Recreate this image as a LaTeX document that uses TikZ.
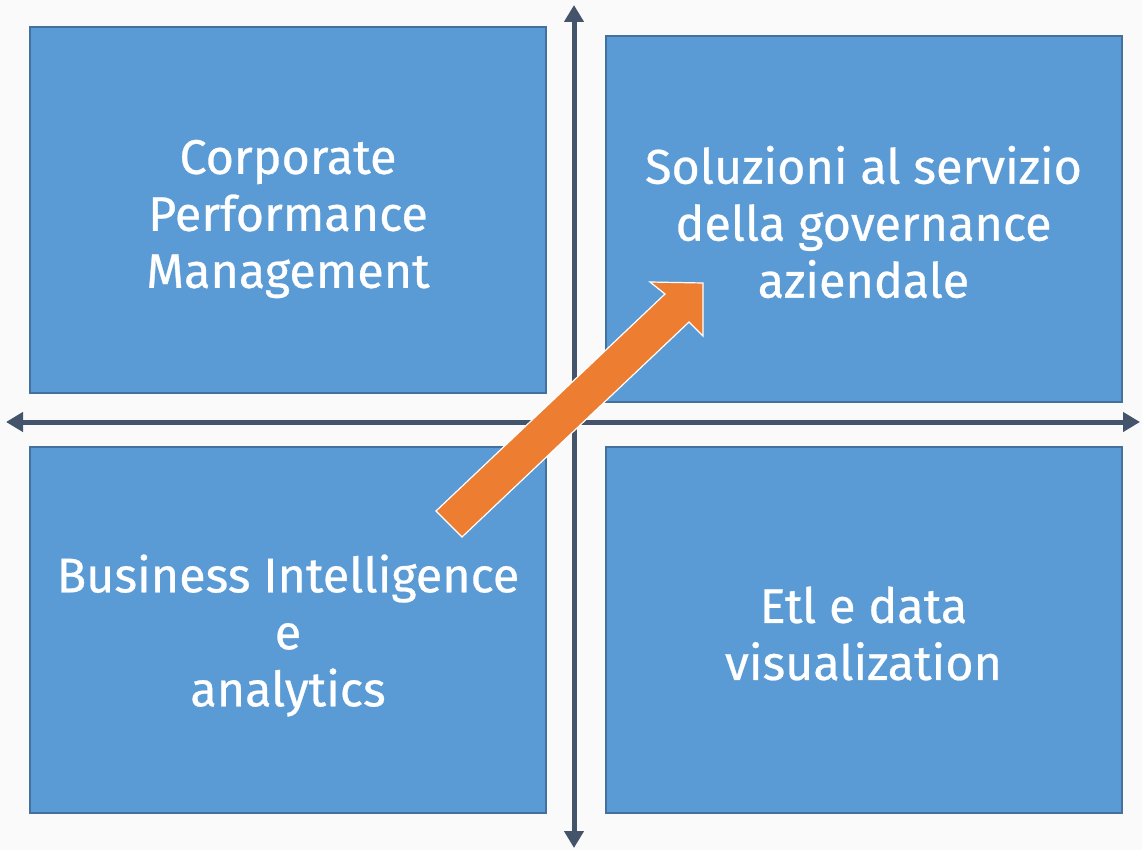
\documentclass[tikz,border=0pt]{standalone}
\usepackage{fontspec}
\setmainfont{Fira Sans}[UprightFeatures={FakeBold=0.6}]
\usetikzlibrary{arrows.meta}
\definecolor{bg}{HTML}{FAFAFA}
\definecolor{boxfill}{HTML}{5B9BD5}
\definecolor{boxline}{HTML}{41719C}
\definecolor{axis}{HTML}{44546A}
\definecolor{orng}{HTML}{ED7D31}
\tikzset{
  quad/.style={draw=boxline, line width=2pt, fill=boxfill, minimum width=516pt, minimum height=366pt,
    inner sep=0pt},
  lbl/.style={text=white, align=center, inner sep=0pt, font=\fontsize{48.5}{57}\selectfont},
  axisline/.style={draw=axis, line width=5pt, {Triangle[length=17pt,width=19pt]}-{Triangle[length=17pt,width=19pt]}},
}
\begin{document}
\begin{tikzpicture}[x=1pt,y=-1pt]
\fill[bg] (0,0) rectangle (1142,850);
\useasboundingbox (0,0) rectangle (1142,850);
\node[quad] (tl) at (288,210) {};
\node[quad] (tr) at (863.5,219) {};
\node[quad] (bl) at (288,629.5) {};
\node[quad] (br) at (863.5,629.5) {};
\node[lbl] (tlt) at ([yshift=-9pt]tl.center) {Corporate\\Performance\\Management};
\node[lbl] (trt) at ([yshift=-3pt]tr.center) {Soluzioni al servizio\\della governance\\aziendale};
\node[lbl] (blt) at ([yshift=-6pt]bl.center) {Business Intelligence\\e\\analytics};
\node[lbl] (brt) at ([yshift=-4pt]br.center) {Etl e data\\visualization};
\coordinate (top) at (574,5);
\coordinate (bot) at (574,848);
\coordinate (left) at (6,422);
\coordinate (right) at (1140,422);
\draw[axisline] (top) -- (bot);
\draw[axisline] (left) -- (right);
\fill[orng, draw=white, line width=1.2pt] (436,511) -- (665,294) -- (650,282) -- (703,283) -- (703,336) -- (689,322) -- (462,537) -- cycle;
\end{tikzpicture}
\end{document}
